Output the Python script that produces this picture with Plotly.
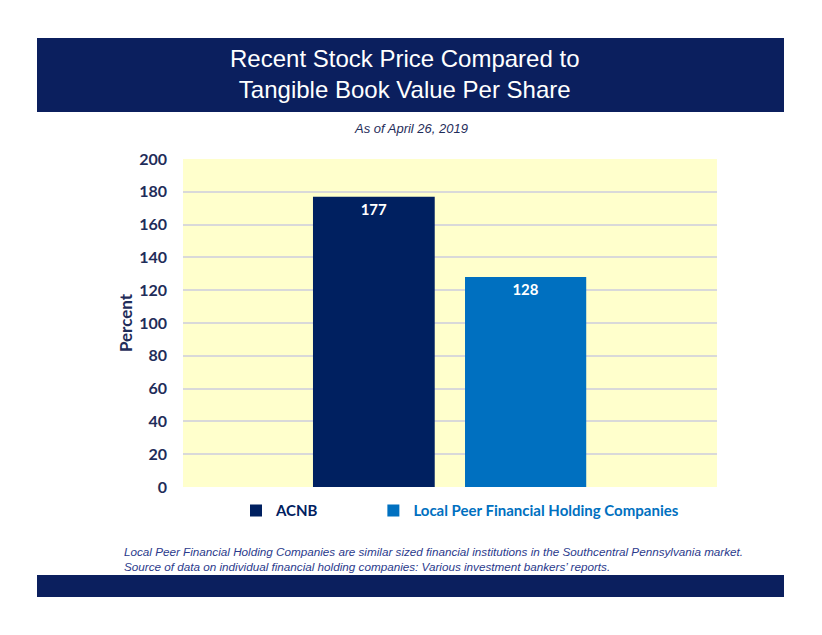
import plotly.graph_objects as go

categories = [""]
series_names = ["ACNB", "Local Peer Financial Holding Companies"]
acnb_values = [177]
peer_values = [128]
y_ticks = [0, 20, 40, 60, 80, 100, 120, 140, 160, 180, 200]

NAVY = "#002060"
BLUE = "#0070C0"
BAND = "#0B1F5E"
TXT = "#1F2D5A"
NBSP = "\u00a0"

fig = go.Figure()
fig.add_trace(go.Bar(
    x=categories, y=acnb_values,
    name="<b><span style='color:%s'>%s</span></b>%s" % (NAVY, series_names[0], NBSP * 13),
    marker=dict(color=NAVY, line=dict(width=0)),
    width=0.228, offset=-0.2566,
    text=[str(v) for v in acnb_values], textposition="inside",
    insidetextanchor="end",
    textfont=dict(family="Lato", size=15, color="white", weight="bold"),
))
fig.add_trace(go.Bar(
    x=categories, y=peer_values,
    name="<b><span style='color:%s'>%s</span></b>" % (BLUE, series_names[1]),
    marker=dict(color=BLUE, line=dict(width=0)),
    width=0.227, offset=0.0281,
    text=[str(v) for v in peer_values], textposition="inside",
    insidetextanchor="end",
    textfont=dict(family="Lato", size=15, color="white", weight="bold"),
))

fig.update_layout(
    width=822, height=635,
    margin=dict(l=183, r=105, t=159, b=148),
    paper_bgcolor="white",
    plot_bgcolor="#FFFFCC",
    barmode="overlay",
    showlegend=True,
    legend=dict(orientation="h", x=(460-183)/534, xanchor="center", y=-0.022, yanchor="top",
                font=dict(family="Lato", size=15), itemwidth=30,
                traceorder="normal", bgcolor="rgba(0,0,0,0)"),
    xaxis=dict(showticklabels=False, showgrid=False, zeroline=False, fixedrange=True,
               range=[-0.5, 0.5]),
    yaxis=dict(range=[0, 200], tickvals=y_ticks, showgrid=True, gridcolor="#D9D9D9",
               gridwidth=2, zeroline=False,
               tickfont=dict(family="Lato", size=16, color=TXT, weight="bold"),
               ticks="", ticklabelstandoff=15,
               title=dict(text="<b>Percent</b>", font=dict(family="Lato", size=17, color=TXT),
                          standoff=2)),
    shapes=[
        dict(type="rect", xref="paper", yref="paper", x0=-146/534, x1=601/534,
             y0=(487-38)/328, y1=(487-112)/328, fillcolor=BAND, line=dict(width=0), layer="above"),
        dict(type="rect", xref="paper", yref="paper", x0=-146/534, x1=601/534,
             y0=(487-575)/328, y1=(487-597)/328, fillcolor=BAND, line=dict(width=0), layer="above"),
    ],
    annotations=[
        dict(text="Recent Stock Price Compared to<br>Tangible Book Value Per Share",
             xref="paper", yref="paper", x=(405-183)/534, y=(487-74)/328,
             xanchor="center", yanchor="middle", showarrow=False,
             font=dict(family="Liberation Sans Narrow, Arial Narrow, sans-serif", size=24, color="white")),
        dict(text="<i>As of April 26, 2019</i>", xref="paper", yref="paper",
             x=(411-183)/534, y=(487-128)/328, xanchor="center", yanchor="middle",
             showarrow=False,
             font=dict(family="Liberation Sans Narrow, Arial Narrow, sans-serif", size=13, color=TXT)),
        dict(text="<i>Local Peer Financial Holding Companies are similar sized financial institutions in the Southcentral Pennsylvania market.<br>Source of data on individual financial holding companies: Various investment bankers\u2019 reports.</i>",
             xref="paper", yref="paper", x=(122-183)/534, y=(487-559)/328,
             xanchor="left", yanchor="middle", align="left", showarrow=False,
             font=dict(family="Liberation Sans Narrow, Arial Narrow, sans-serif", size=11.7, color="#2B3A8C")),
    ],
)

fig.write_html("out.html")
